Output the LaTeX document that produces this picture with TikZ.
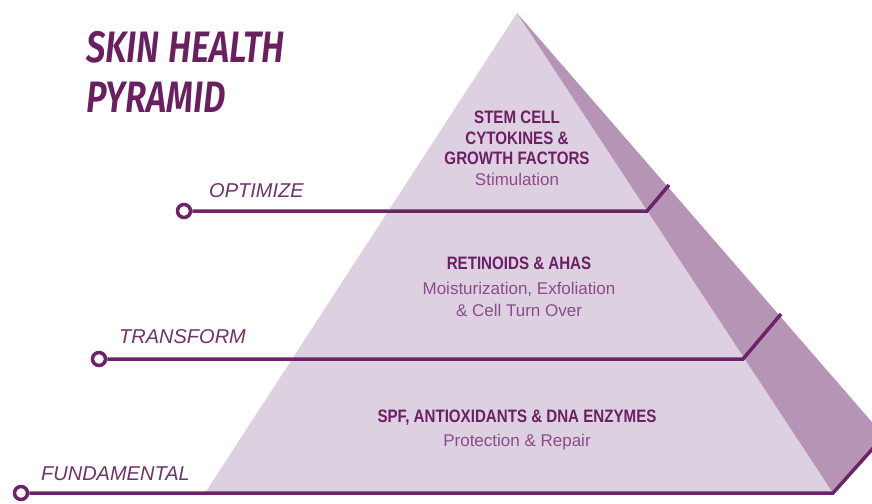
\documentclass[tikz,border=0pt]{standalone}
\usepackage{fontspec}
\setmainfont{Liberation Sans}
\newfontfamily\titlefont[FakeStretch=0.79]{Fira Sans SemiBold Italic}
\newfontfamily\condfont[FakeStretch=0.84]{Liberation Sans}
\newfontfamily\subfont{Liberation Sans}
\definecolor{frontc}{HTML}{DDD0E1}
\definecolor{sidec}{HTML}{B594B6}
\definecolor{linec}{HTML}{6C2468}
\definecolor{headc}{HTML}{6B1F64}
\definecolor{subc}{HTML}{8B4D88}
\definecolor{labc}{HTML}{6E3369}
\definecolor{titlec}{HTML}{6A2060}
\tikzset{
  head/.style={anchor=base, inner sep=0pt, text=headc, font=\condfont\bfseries\fontsize{18}{20}\selectfont},
  sub/.style={anchor=base, inner sep=0pt, text=subc, font=\subfont\fontsize{17}{20}\selectfont},
  lab/.style={anchor=base west, inner sep=0pt, text=labc, font=\subfont\itshape\fontsize{20}{24}\selectfont},
  ttl/.style={anchor=base west, inner sep=0pt, text=titlec, font=\titlefont\fontsize{44}{50}\selectfont},
  lvl/.style={draw=linec, line width=3.5pt},
  dot/.style={circle, draw=linec, line width=3.5pt, fill=white, minimum size=13pt, inner sep=0pt},
}
\begin{document}
\begin{tikzpicture}[x=1pt,y=-1pt]
\useasboundingbox (0,0) rectangle (872,503);
% pyramid corners
\coordinate (apex) at (517,13);
\coordinate (bl) at (205,493);
\coordinate (br) at (833,493);
\coordinate (far) at (884,436);
% faces
\fill[frontc] (apex) -- (bl) -- (br) -- cycle;
\fill[sidec] (apex) -- (br) -- (far) -- cycle;
% title
\node[ttl] (t1) at (86,63) {SKIN HEALTH};
\node[ttl] (t2) at (86,112) {PYRAMID};
% level markers
\node[dot] (c1) at (184,211) {};
\node[dot] (c2) at (99,359) {};
\node[dot] (c3) at (21,493) {};
\coordinate (k1) at (647,211);
\coordinate (e1) at (669,185);
\coordinate (k2) at (743,359);
\coordinate (e2) at (781,314);
\coordinate (k3) at (833,493);
\coordinate (e3) at (884,436);
\draw[lvl] (c1.east) -- (k1) -- (e1);
\draw[lvl] (c2.east) -- (k2) -- (e2);
\draw[lvl] (c3.east) -- (k3) -- (e3);
% labels
\node[lab] (l1) at (209,197) {OPTIMIZE};
\node[lab] (l2) at (119,343) {TRANSFORM};
\node[lab] (l3) at (41,480) {FUNDAMENTAL};
% top tier
\node[head] (a1) at (517,123) {STEM CELL};
\node[head] (a2) at (517,144) {CYTOKINES \&};
\node[head] (a3) at (517,164) {GROWTH FACTORS};
\node[sub] (a4) at (517,185) {Stimulation};
% middle tier
\node[head] (b1) at (519,269) {RETINOIDS \& AHAS};
\node[sub] (b2) at (519,294) {Moisturization, Exfoliation};
\node[sub] (b3) at (519,316) {\& Cell Turn Over};
% bottom tier
\node[head] (d1) at (517,422) {SPF, ANTIOXIDANTS \& DNA ENZYMES};
\node[sub] (d2) at (517,446) {Protection \& Repair};
\end{tikzpicture}
\end{document}
